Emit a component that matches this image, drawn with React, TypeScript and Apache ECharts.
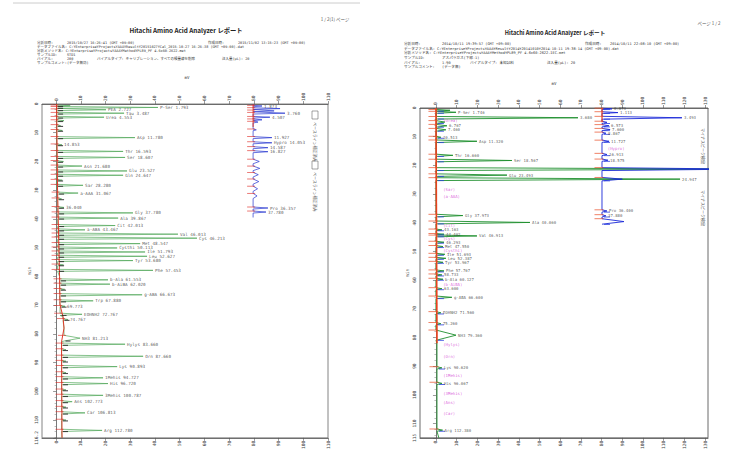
import React, { useEffect, useRef } from "react";
import * as echarts from "echarts";

// ================= LEFT REPORT (STD1, 2015/10/27) =================
const L_XTICKS = [0, 10, 20, 30, 40, 50, 60, 70, 80, 90, 100, 110];
// green channel: retention time (min), apex (mV), half width (min), label
const L_G_TIME = [0.6, 1.2, 2.0, 3.2, 4.6, 5.8, 7.5, 9.2, 11.7, 14.2, 16.5, 18.6, 20.0, 21.6, 23.3, 24.8, 26.5, 28.3, 31.0, 33.0, 36.0, 37.9, 39.7, 42.3, 43.8, 45.3, 46.7, 48.6, 50.1, 51.5, 53.0, 54.5, 56.0, 57.9, 61.2, 62.7, 64.5, 66.4, 68.5, 70.4, 73.2, 75.0, 81.5, 83.6, 85.5, 87.8, 89.5, 91.4, 93.5, 95.3, 97.3, 99.5, 101.4, 103.6, 105.5, 107.5, 110.0, 113.6];
const L_G_APEX = [5.7, 41.2, 20.2, 27.5, 19.4, 3.2, 1.8, 2.5, 31.9, 2.4, 27.1, 27.9, 3.0, 10.5, 28.7, 27.1, 2.5, 10.9, 8.9, 2.2, 3.2, 31.1, 25.1, 23.9, 11.7, 49.3, 57.0, 34.0, 24.7, 36.0, 36.8, 31.1, 3.0, 39.2, 21.0, 21.8, 3.5, 34.8, 15.0, 3.6, 10.5, 4.8, 9.7, 27.9, 4.0, 35.2, 4.0, 24.7, 4.0, 19.0, 21.0, 4.0, 19.0, 6.5, 4.0, 11.7, 4.0, 18.6];
const L_G_HALF = [0.25, 0.3, 0.3, 0.3, 0.3, 0.3, 0.3, 0.3, 0.35, 0.3, 0.35, 0.35, 0.3, 0.35, 0.35, 0.35, 0.3, 0.35, 0.35, 0.3, 0.3, 0.35, 0.35, 0.35, 0.35, 0.4, 0.4, 0.35, 0.35, 0.35, 0.35, 0.35, 0.3, 0.35, 0.35, 0.35, 0.3, 0.4, 0.35, 0.3, 0.4, 0.3, 1.0, 0.4, 0.3, 0.4, 0.3, 0.4, 0.3, 0.4, 0.4, 0.3, 0.4, 0.35, 0.3, 0.4, 0.3, 0.4];
const L_G_LABEL = ["", "P-Ser 1.793", "PEA 2.727", "Tau 3.487", "Urea 4.553", "", "", "", "Asp 11.780", "14.853", "Thr 16.593", "Ser 18.607", "", "Asn 21.680", "Glu 23.527", "Gln 24.647", "", "Sar 28.280", "a-AAA 31.067", "", "36.040", "Gly 37.780", "Ala 39.867", "Cit 42.013", "a-ABA 43.467", "Val 46.013", "Cys 46.213", "Met 48.547", "Cysthi 50.113", "Ile 51.793", "Leu 52.627", "Tyr 53.680", "", "Phe 57.453", "b-Ala 61.553", "b-AiBA 62.020", "", "g-ABA 66.673", "Trp 67.880", "69.773", "EOHNH2 72.767", "74.767", "NH3 81.213", "Hylys 83.660", "", "Orn 87.660", "", "Lys 90.893", "", "1Mehis 94.727", "His 96.720", "", "3Mehis 100.787", "Ans 102.773", "", "Car 106.813", "", "Arg 112.780"];
const L_G_BASE_T = [0, 30, 60, 70, 74, 78, 82.8, 116.2];
const L_G_BASE_V = [0.2, 0.6, 1.4, 1.6, 2.8, 3.2, 2.2, 2.4];
// blue channel
const L_B_TIME = [0.7, 1.6, 2.4, 3.2, 4.6, 5.5, 6.3, 9.0, 11.7, 13.5, 15.2, 16.6, 20.0, 22.4, 24.6, 27.0, 29.5, 32.0, 36.2, 37.6];
const L_B_APEX = [83.3, 90.6, 88.2, 92.6, 86.5, 83.3, 81.7, 81.0, 87.3, 87.3, 85.7, 85.7, 82.2, 82.4, 81.8, 82.0, 81.5, 81.3, 85.7, 84.9];
const L_B_HALF = [0.25, 0.3, 0.3, 0.3, 0.3, 0.3, 0.3, 0.3, 0.35, 0.35, 0.35, 0.35, 0.8, 0.8, 0.8, 0.9, 0.9, 0.9, 0.35, 0.35];
const L_B_LABEL = ["1.873", "", "", "3.760", "4.507", "", "", "", "11.927", "Hypro 14.053", "14.587", "16.827", "", "", "", "", "", "", "Pro 36.357", "37.780"];
const L_B_BASE_T = [0, 39.5];
const L_B_BASE_V = [79.7, 79.7];

// ================= RIGHT REPORT (asparagus, 2014/10/11) =================
const R_XTICKS = [0, 10, 20, 30, 40, 50, 60, 70, 80, 90, 100, 110, 120, 130];
const R_G_TIME = [0.8, 1.5, 3.4, 4.9, 6.2, 7.6, 10.2, 11.6, 16.5, 18.3, 21.3, 23.4, 24.8, 37.5, 39.9, 42.5, 44.0, 44.6, 46.8, 48.3, 51.0, 52.4, 53.8, 56.8, 58.2, 59.7, 63.0, 66.0, 71.4, 75.2, 79.2, 90.6, 96.0, 112.3];
const R_G_APEX = [6.8, 9.7, 68.6, 4.3, 5.3, 4.8, 2.4, 19.8, 8.2, 36.7, 150, 34.3, 117.9, 13.0, 45.4, 2.9, 3.9, 19.8, 3.9, 3.4, 4.3, 4.8, 3.4, 3.9, 2.9, 3.4, 2.9, 7.7, 2.4, 2.4, 9.7, 2.9, 2.9, 3.2];
const R_G_HALF = [0.3, 0.35, 0.45, 0.5, 0.5, 0.5, 0.35, 0.45, 0.4, 0.45, 0.5, 0.45, 0.5, 0.45, 0.5, 0.3, 0.25, 0.3, 0.35, 0.35, 0.35, 0.35, 0.35, 0.35, 0.35, 0.35, 0.35, 0.45, 0.4, 0.4, 1.8, 0.4, 0.4, 0.4];
const R_G_LABEL = ["", "P-Ser 1.746", "3.680", "", "6.767", "7.460", "10.513", "Asp 11.320", "Thr 16.660", "Ser 18.567", "", "Glu 23.493", "24.947", "Gly 37.973", "Ala 40.060", "43.163", "44.402", "Val 46.913", "46.293", "Met 47.550", "Ile 51.693", "Leu 52.387", "Tyr 53.967", "Phe 57.767", "58.733", "b-Ala 60.127", "63.600", "g-ABA 66.600", "EOHNH2 71.560", "75.260", "NH3 79.360", "Lys 90.620", "His 96.067", "Arg 112.380"];
const R_G_BASE_T = [0, 82, 115];
const R_G_BASE_V = [0, 0.5, 1.4];
const R_B_TIME = [0.3, 1.6, 3.4, 5.0, 6.2, 7.5, 8.8, 11.6, 16.2, 18.2, 21.3, 24.8, 35.9, 37.6, 39.6];
const R_B_APEX = [85.0, 87.9, 118.8, 82.6, 83.6, 84.1, 82.1, 83.6, 82.6, 83.1, 150, 90.0, 82.6, 82.1, 90.8];
const R_B_HALF = [0.25, 0.3, 0.5, 0.4, 0.4, 0.4, 0.4, 0.4, 0.4, 0.4, 0.5, 0.6, 0.4, 0.4, 1.0];
const R_B_LABEL = ["0.873", "1.113", "3.493", "", "6.573", "7.600", "8.867", "11.727", "16.913", "18.575", "", "", "Pro 36.400", "37.880", ""];
const R_B_BASE_T = [0, 40.5];
const R_B_BASE_V = [80.2, 80.2];
// components expected but not detected (magenta)
const R_M_LABEL = ["(Urea)", "(Hypro)", "(Sar)", "(a-AAA)", "(Cit)", "(Cys)", "(Cysthi)", "(b-AiBA)", "(Hylys)", "(Orn)", "(1Mehis)", "(3Mehis)", "(Ans)", "(Car)"];
const R_M_TIME = [4.5, 14.0, 28.4, 30.8, 41.0, 45.4, 49.7, 61.4, 82.6, 86.7, 93.4, 99.5, 102.6, 106.6];
const R_M_VAL = [2.5, 82.0, 2.5, 2.5, 2.5, 2.5, 2.5, 2.5, 2.5, 2.5, 2.5, 2.5, 2.5, 2.5];

const MONO = "'DejaVu Sans Mono', 'Noto Sans CJK JP', monospace";
const JP = "'Noto Sans CJK JP', 'Noto Sans', sans-serif";

function stepBase(bt: number[], bv: number[], t: number) {
  let v = bv[0];
  for (let i = 0; i < bt.length; i++) if (bt[i] <= t) v = bv[i];
  return v;
}

function buildTrace(time: number[], apex: number[], half: number[], bt: number[], bv: number[], start: number, end: number) {
  const pts: number[][] = [];
  bt.forEach((t, i) => { if (t >= start && t <= end) pts.push([bv[i], t]); });
  pts.push([stepBase(bt, bv, start), start]);
  pts.push([stepBase(bt, bv, end), end]);
  time.forEach((t, i) => {
    pts.push([stepBase(bt, bv, t - half[i]), t - half[i]]);
    pts.push([apex[i], t]);
    pts.push([stepBase(bt, bv, t + half[i]), t + half[i]]);
  });
  pts.sort((a, b) => a[1] - b[1]);
  return pts;
}

function labelItems(time: number[], apex: number[], label: string[]) {
  const out: any[] = [];
  time.forEach((t, i) => { if (label[i]) out.push({ name: label[i], value: [Math.min(apex[i], 200), t] }); });
  return out;
}

function startDashes(time: number[], half: number[], bt: number[], bv: number[]) {
  return time.map((t, i) => [stepBase(bt, bv, t - half[i]), t - half[i]]);
}
function endDashes(time: number[], half: number[], bt: number[], bv: number[]) {
  return time.map((t, i) => [stepBase(bt, bv, t + half[i]), t + half[i]]);
}

const line = (data: number[][], xi: number, yi: number, color: string, width: number, z = 3) => ({
  type: "line", data, xAxisIndex: xi, yAxisIndex: yi, symbol: "none", silent: true, clip: true,
  lineStyle: { color, width }, z,
});
const labels = (data: any[], xi: number, yi: number, color: string, size: number) => ({
  type: "scatter", data, xAxisIndex: xi, yAxisIndex: yi, symbolSize: 0.1, silent: true, clip: false,
  itemStyle: { color: "rgba(0,0,0,0)" }, z: 6,
  label: { show: true, position: "right", distance: 2, formatter: "{b}", fontSize: size, color, fontFamily: MONO },
});
const dashes = (data: number[][], xi: number, yi: number, color: string, size: number[], offset: number[]) => ({
  type: "scatter", data, xAxisIndex: xi, yAxisIndex: yi, symbol: "rect", symbolSize: size, symbolOffset: offset,
  silent: true, itemStyle: { color }, z: 4,
});

function xAxisCfg(grid: number, pos: string, min: number, max: number, ticks: number[]) {
  return {
    type: "value", gridIndex: grid, position: pos, min, max,
    axisLine: { show: true, lineStyle: { color: "#555", width: 0.8 } },
    axisTick: { show: true, inside: false, length: 3, customValues: ticks, lineStyle: { color: "#555", width: 0.6 } },
    axisLabel: { show: true, customValues: ticks, rotate: 90, fontSize: 4.5, margin: 3, color: "#444", fontFamily: MONO },
    splitLine: { show: false },
  };
}
function yAxisCfg(grid: number, max: number) {
  return {
    type: "value", gridIndex: grid, inverse: true, min: 0, max, interval: 10,
    name: "min", nameLocation: "middle", nameGap: 10, nameRotate: 90,
    nameTextStyle: { fontSize: 4.5, color: "#444", fontFamily: MONO },
    axisLine: { show: true, lineStyle: { color: "#555", width: 0.8 } },
    axisTick: { show: true, length: 3, lineStyle: { color: "#555", width: 0.6 } },
    minorTick: { show: true, splitNumber: 5, length: 1.5, lineStyle: { color: "#777", width: 0.5 } },
    axisLabel: { rotate: 90, fontSize: 4.5, margin: 3, color: "#444", fontFamily: MONO },
    splitLine: { show: false },
  };
}

type T = [number, number, string];
const L_HEAD: { y: number; items: T[] }[] = [
  { y: 43, items: [[37, 0, "分析日時:"], [67, 0, "2015/10/27 16:26:41 (GMT +09:00)"], [208, 0, "作成日時:"], [238, 0, "2015/11/02 13:15:23 (GMT +09:00)"]] },
  { y: 47, items: [[37, 0, "データファイル名: C:¥Enterprise¥Projects¥AAA¥Result¥20151027¥Cal_2015-10-27 16-26-38 (GMT +09-00).dat"]] },
  { y: 51, items: [[37, 0, "分析メソッド名: C:¥Enterprise¥Projects¥AAA¥Method¥PL89_PF 4.6x60-2622.met"]] },
  { y: 55, items: [[37, 0, "サンプルID:"], [67, 0, "STD1"]] },
  { y: 59, items: [[37, 0, "バイアル:"], [67, 0, "200"], [97, 0, "バイアルタイプ: キャリブレーション、すべての検量線を削除"], [222, 0, "注入量(μL): 20"]] },
  { y: 63, items: [[37, 0, "サンプルコメント:"], [67, 0, "(データ無効)"]] },
];
const R_HEAD: { y: number; items: T[] }[] = [
  { y: 44, items: [[404, 0, "分析日時:"], [442, 0, "2014/10/11 19:39:57 (GMT +09:00)"], [585, 0, "作成日時:"], [610, 0, "2014/10/11 22:08:10 (GMT +09:00)"]] },
  { y: 48.7, items: [[404, 0, "データファイル名: C:¥Enterprise¥Projects¥AAA¥Result¥2014¥20141010¥2014-10-11 19-38-14 (GMT +09-00).dat"]] },
  { y: 53.3, items: [[404, 0, "分析メソッド名: C:¥Enterprise¥Projects¥AAA¥Method¥PL89_PF 4.6x60-2622.IEC.met"]] },
  { y: 58, items: [[404, 0, "サンプルID:"], [442, 0, "アスパラガス(下部-1)"]] },
  { y: 62.5, items: [[404, 0, "バイアル:"], [442, 0, "1-90"], [470, 0, "バイアルタイプ: 未知試料"], [547, 0, "注入量(μL): 20"]] },
  { y: 67, items: [[404, 0, "サンプルコメント:"], [442, 0, "(データ無)"]] },
];

function txt(x: number, y: number, text: string, size: number, opts: any = {}) {
  return {
    type: "text", x, y, rotation: opts.rotation || 0, silent: true,
    style: {
      text, fontSize: size, fontFamily: opts.family || MONO, fontWeight: opts.weight || "normal",
      fill: opts.fill || "#333", textAlign: opts.align || "left", textVerticalAlign: "middle",
    },
  };
}

export default function App() {
  const ref = useRef<HTMLDivElement>(null);
  useEffect(() => {
    if (!ref.current) return;
    const chart = echarts.init(ref.current, undefined, { renderer: "svg" });

    const lG = buildTrace(L_G_TIME, L_G_APEX, L_G_HALF, L_G_BASE_T, L_G_BASE_V, 0, 116.2);
    const lB = buildTrace(L_B_TIME, L_B_APEX, L_B_HALF, L_B_BASE_T, L_B_BASE_V, 0, 39.5);
    const rG = buildTrace(R_G_TIME, R_G_APEX, R_G_HALF, R_G_BASE_T, R_G_BASE_V, 0, 115);
    const rB = buildTrace(R_B_TIME, R_B_APEX, R_B_HALF, R_B_BASE_T, R_B_BASE_V, 0, 40.5);

    const graphic: any[] = [];
    graphic.push({ type: "line", silent: true, shape: { x1: 13, y1: 3, x2: 360, y2: 3 }, style: { stroke: "#ccc", lineWidth: 1 } });
    graphic.push(txt(335, 19, "1 / 2(1) ページ", 4.5, { align: "center", family: JP, fill: "#555" }));
    graphic.push(txt(186, 30, "Hitachi Amino Acid Analyzer レポート", 6.3, { align: "center", family: JP, weight: "bold", fill: "#222" }));
    graphic.push(txt(187, 77, "mV", 4, { align: "center" }));
    L_HEAD.forEach((r) => r.items.forEach(([x, , s]) => graphic.push(txt(x, r.y, s, 3.5))));
    graphic.push(txt(709, 23, "ページ 1 / 2", 4.5, { align: "center", family: JP, fill: "#555" }));
    graphic.push(txt(555, 33, "Hitachi Amino Acid Analyzer レポート", 5.6, { align: "center", family: JP, weight: "bold", fill: "#222" }));
    graphic.push(txt(554, 83, "mV", 4, { align: "center" }));
    R_HEAD.forEach((r) => r.items.forEach(([x, , s]) => graphic.push(txt(x, r.y, s, 3.6))));
    // vertical side notes
    [[315, 111], [315, 161]].forEach(([x, y]) => {
      graphic.push({ type: "rect", silent: true, shape: { x: x - 3, y, width: 6, height: 8 }, style: { fill: "none", stroke: "#666", lineWidth: 0.6 } });
      graphic.push(txt(x, y + 11, "ベースライン補正済み", 4, { rotation: -Math.PI / 2, family: JP, fill: "#555" }));
    });
    [[703, 128], [703, 190]].forEach(([x, y]) => {
      graphic.push(txt(x, y, "マイナスピーク検出", 4, { rotation: -Math.PI / 2, family: JP, fill: "#555" }));
    });

    const option: any = {
      animation: false,
      backgroundColor: "#fff",
      graphic,
      grid: [
        { left: 42, top: 104, width: 286, height: 337, show: true, borderColor: "#666", borderWidth: 0.8, backgroundColor: "#fff" },
        { left: 420, top: 108, width: 288, height: 340, show: true, borderColor: "#444", borderWidth: 0.8, backgroundColor: "#fff" },
      ],
      xAxis: [
        xAxisCfg(0, "top", -5.7, 110, L_XTICKS),
        xAxisCfg(0, "bottom", -5.7, 110, L_XTICKS),
        xAxisCfg(1, "top", -7.7, 131.4, R_XTICKS),
        xAxisCfg(1, "bottom", -7.7, 131.4, R_XTICKS),
      ],
      yAxis: [yAxisCfg(0, 116.2), yAxisCfg(1, 115)],
      series: [
        // left
        line(L_G_BASE_T.map((t, i) => [L_G_BASE_V[i], t]), 0, 0, "#e23a2a", 1, 4),
        line(lG, 0, 0, "#52a85a", 0.7),
        line(lB, 0, 0, "#2535d0", 0.7),
        line([[L_B_BASE_V[0], 0], [L_B_BASE_V[0], 8]], 0, 0, "#e23a2a", 1, 4),
        dashes(startDashes(L_G_TIME, L_G_HALF, L_G_BASE_T, L_G_BASE_V), 0, 0, "#e0302a", [8, 0.8], [-2, 0]),
        dashes(endDashes(L_G_TIME, L_G_HALF, L_G_BASE_T, L_G_BASE_V), 0, 0, "#222", [5, 1.1], [4, 0]),
        dashes(startDashes(L_B_TIME, L_B_HALF, L_B_BASE_T, L_B_BASE_V), 0, 0, "#e0302a", [8, 0.8], [-2, 0]),
        labels(labelItems(L_G_TIME, L_G_APEX, L_G_LABEL), 0, 0, "#333", 4.3),
        labels(labelItems(L_B_TIME, L_B_APEX, L_B_LABEL), 0, 0, "#333", 4.3),
        // right
        line(R_G_BASE_T.filter((t) => t <= 82).map((t, i) => [R_G_BASE_V[i], t]), 2, 1, "#e8401e", 1.6, 4),
        line(rG, 2, 1, "#1e8f2e", 0.9),
        line(rB, 2, 1, "#1a28d8", 0.9),
        line([[R_B_BASE_V[0], 0], [R_B_BASE_V[0], 5]], 2, 1, "#e8401e", 1.2, 4),
        dashes(startDashes(R_G_TIME, R_G_HALF, R_G_BASE_T, R_G_BASE_V), 2, 1, "#e8502a", [9, 0.9], [-3, 0]),
        dashes(endDashes(R_G_TIME, R_G_HALF, R_G_BASE_T, R_G_BASE_V), 2, 1, "#2a40e0", [6, 1], [5, 0]),
        dashes(startDashes(R_B_TIME, R_B_HALF, R_B_BASE_T, R_B_BASE_V), 2, 1, "#e8502a", [9, 0.9], [-3, 0]),
        dashes(endDashes(R_B_TIME, R_B_HALF, R_B_BASE_T, R_B_BASE_V), 2, 1, "#2a40e0", [6, 1], [5, 0]),
        labels(labelItems(R_G_TIME, R_G_APEX, R_G_LABEL), 2, 1, "#333", 4.0),
        labels(labelItems(R_B_TIME, R_B_APEX, R_B_LABEL), 2, 1, "#333", 4.0),
        labels(R_M_TIME.map((t, i) => ({ name: R_M_LABEL[i], value: [R_M_VAL[i], t] })), 2, 1, "#d23cd2", 4.0),
      ],
    };
    chart.setOption(option);
    return () => chart.dispose();
  }, []);
  return <div ref={ref} style={{ position: "absolute", left: 0, top: 0, width: 740, height: 452, background: "#fff" }} />;
}
